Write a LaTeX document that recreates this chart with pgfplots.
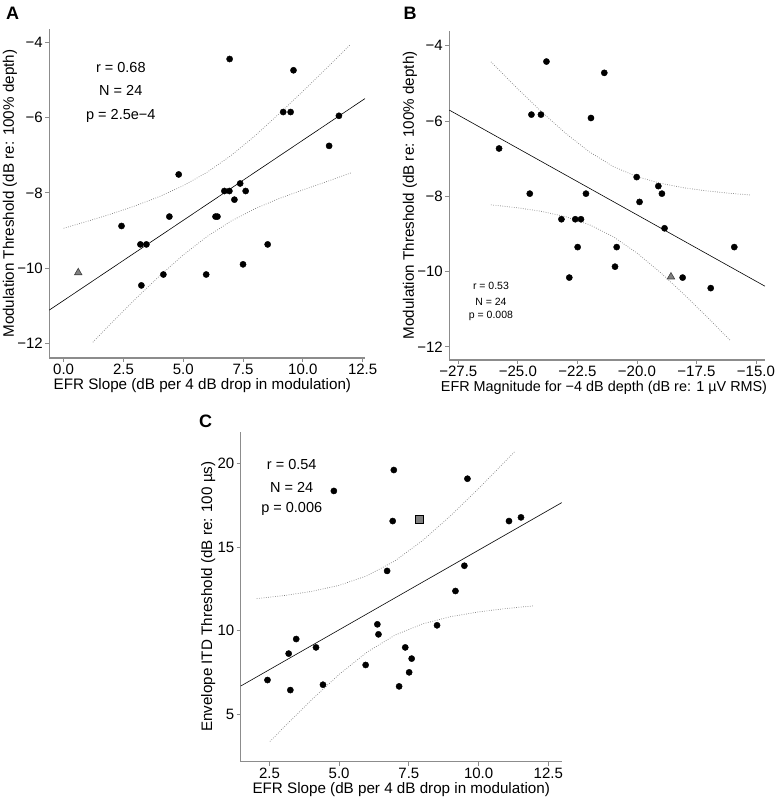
\documentclass[border=0pt]{standalone}
\usepackage{fontspec}
\setmainfont{Liberation Sans}
\usepackage{pgfplots}
\pgfplotsset{compat=1.18}
\definecolor{axisgray}{RGB}{140,140,140}
\definecolor{cigray}{RGB}{125,125,125}
\definecolor{markgray}{RGB}{128,128,128}
\newcommand{\lblfont}{\fontsize{15.2}{15.2}\selectfont}
\pgfplotsset{
  panel/.style={
    scale only axis,
    axis x line*=bottom, axis y line*=left,
    axis line style={draw=axisgray, line width=1.2pt, -},
    tick style={draw=axisgray, line width=0.8pt},
    major tick length=4pt, tick align=outside,
    ticklabel style={font=\fontsize{15}{15}\selectfont, text=black, inner sep=0pt},
    x tick label style={yshift=-2.1pt},
    y tick label style={xshift=-2.3pt},
    /pgf/number format/assume math mode=true,
    clip=false,
  },
  dots/.style={only marks, mark=*, mark size=3.1pt, black},
  fitline/.style={black, line width=0.6pt, no marks},
  ciline/.style={cigray, line width=0.7pt, dash pattern=on 0.7pt off 1.6pt, no marks},
}
\begin{document}
\begin{tikzpicture}[x=1pt,y=1pt]
\useasboundingbox (0,0) rectangle (777,797);
\node[font=\fontsize{18}{18}\selectfont\bfseries] at (12.5,784) {A};
\node[font=\fontsize{18}{18}\selectfont\bfseries] at (410,784) {B};
\node[font=\fontsize{18}{18}\selectfont\bfseries] at (205.5,375.5) {C};

% Panel A
\begin{axis}[panel, at={(49.3pt,439pt)}, anchor=south west,
  width=315.7pt, height=328.7pt,
  xmin=-0.6, xmax=12.6, ymin=-12.39, ymax=-3.65,
  xtick={0,2.5,5,7.5,10,12.5}, xticklabels={0.0,2.5,5.0,7.5,10.0,12.5},
  ytick={-12,-10,-8,-6,-4}, yticklabels={−12,−10,−8,−6,−4},
  xlabel={EFR Slope (dB per 4 dB drop in modulation)},
  ylabel={Modulation Threshold (dB re: 100\% depth)},
  every axis x label/.style={at={(axis description cs:0.485,-0.0958)}, anchor=base, inner sep=0pt, font=\lblfont},
  every axis y label/.style={at={(axis description cs:-0.1245,0.5)}, anchor=center, inner sep=0pt, rotate=90, font=\lblfont},
]
\addplot[ciline] coordinates {(0,-8.94)(1,-8.754)(2,-8.558)(3,-8.343)(4,-8.099)(5,-7.809)(6,-7.45)(7,-7.007)(8,-6.483)(9,-5.90)(10,-5.30)(11,-4.68)(12,-4.05)};
\addplot[ciline] coordinates {(1.22,-11.97)(2,-11.458)(3,-10.821)(4,-10.213)(5,-9.651)(6,-9.158)(7,-8.749)(8,-8.421)(9,-8.152)(10,-7.921)(11,-7.70)(12,-7.47)};
\addplot[fitline] coordinates {(-0.6,-11.116)(12.6,-5.492)};
\addplot[dots] table {
6.94 -4.44
9.61 -4.74
9.18 -5.85
9.49 -5.85
11.51 -5.95
11.10 -6.75
4.81 -7.51
7.38 -7.75
6.72 -7.95
6.93 -7.95
7.61 -7.95
7.14 -8.18
6.35 -8.63
6.43 -8.63
4.42 -8.63
2.42 -8.88
3.21 -9.37
3.46 -9.37
8.53 -9.37
7.50 -9.90
5.96 -10.17
4.17 -10.17
3.25 -10.46
};
\addplot[only marks, mark=triangle*, mark size=4.3pt, mark options={fill=markgray, draw=black!75, line width=0.6pt}] coordinates {(0.61,-10.12)};
\node[font=\fontsize{14.5}{14.5}\selectfont] at (axis cs:2.39,-4.67) {r = 0.68};
\node[font=\fontsize{14.5}{14.5}\selectfont] at (axis cs:2.39,-5.28) {N = 24};
\node[font=\fontsize{14.5}{14.5}\selectfont] at (axis cs:2.39,-5.96) {p = 2.5e−4};
\end{axis}

% Panel B
\begin{axis}[panel, at={(449.3pt,437pt)}, anchor=south west,
  width=315.7pt, height=329.3pt,
  xmin=-27.88, xmax=-14.62, ymin=-12.35, ymax=-3.6,
  xtick={-27.5,-25,-22.5,-20,-17.5,-15}, xticklabels={−27.5,−25.0,−22.5,−20.0,−17.5,−15.0},
  ytick={-12,-10,-8,-6,-4}, yticklabels={−12,−10,−8,−6,−4},
  xlabel={EFR Magnitude for −4 dB depth (dB re: 1 µV RMS)},
  ylabel={Modulation Threshold (dB re: 100\% depth)},
  every axis x label/.style={at={(axis description cs:0.49,-0.0956)}, anchor=base, inner sep=0pt, font=\fontsize{14.4}{14.4}\selectfont},
  every axis y label/.style={at={(axis description cs:-0.1245,0.5)}, anchor=center, inner sep=0pt, rotate=90, font=\lblfont},
]
\addplot[ciline] coordinates {(-26.13,-4.429)(-25,-5.148)(-24,-5.758)(-23,-6.324)(-22,-6.818)(-21,-7.207)(-20,-7.478)(-19,-7.657)(-18,-7.777)(-17,-7.862)(-16,-7.926)(-15.25,-7.964)};
\addplot[ciline] coordinates {(-26.13,-8.227)(-25,-8.306)(-24,-8.402)(-23,-8.542)(-22,-8.754)(-21,-9.071)(-20,-9.506)(-19,-10.033)(-18,-10.619)(-17,-11.24)(-16.06,-11.842)};
\addplot[fitline] coordinates {(-27.88,-5.71)(-14.62,-10.39)};
\addplot[dots] table {
-23.80 -4.42
-21.37 -4.72
-24.43 -5.83
-24.03 -5.83
-21.93 -5.92
-25.79 -6.73
-20.01 -7.49
-19.10 -7.73
-24.50 -7.93
-22.14 -7.93
-18.95 -7.93
-19.89 -8.15
-23.17 -8.61
-22.59 -8.61
-22.35 -8.61
-18.84 -8.85
-22.49 -9.35
-20.85 -9.35
-15.91 -9.35
-20.92 -9.87
-22.84 -10.16
-18.08 -10.16
-16.90 -10.44
};
\addplot[only marks, mark=triangle*, mark size=4.3pt, mark options={fill=markgray, draw=black!75, line width=0.6pt}] coordinates {(-18.57,-10.14)};
\node[font=\fontsize{10.5}{10.5}\selectfont] at (axis cs:-26.13,-10.39) {r = 0.53};
\node[font=\fontsize{10.5}{10.5}\selectfont] at (axis cs:-26.13,-10.80) {N = 24};
\node[font=\fontsize{10.5}{10.5}\selectfont] at (axis cs:-26.13,-11.18) {p = 0.008};
\end{axis}

% Panel C
\begin{axis}[panel, at={(240.7pt,35.3pt)}, anchor=south west,
  width=321pt, height=330pt,
  xmin=1.47, xmax=12.98, ymin=2.17, ymax=21.89,
  xtick={2.5,5,7.5,10,12.5}, xticklabels={2.5,5.0,7.5,10.0,12.5},
  ytick={5,10,15,20}, yticklabels={5,10,15,20},
  xlabel={EFR Slope (dB per 4 dB drop in modulation)},
  ylabel={Envelope ITD Threshold (dB re: 100 µs)},
  every axis x label/.style={at={(axis description cs:0.5,-0.0955)}, anchor=base, inner sep=0pt, font=\lblfont},
  every axis y label/.style={at={(axis description cs:-0.101,0.5)}, anchor=center, inner sep=0pt, rotate=90, font=\lblfont},
]
\addplot[ciline] coordinates {(2.045,11.913)(3,12.092)(4,12.342)(5,12.709)(6,13.282)(7,14.17)(8,15.398)(9,16.874)(10,18.494)(11,20.192)(11.31,20.729)};
\addplot[ciline] coordinates {(2.52,3.378)(3,4.196)(4,5.85)(5,7.387)(6,8.718)(7,9.734)(8,10.41)(9,10.838)(10,11.122)(11,11.328)(11.99,11.484)};
\addplot[fitline] coordinates {(1.47,6.69)(12.98,17.65)};
\addplot[dots] table {
6.96 19.60
9.60 19.08
4.81 18.35
6.92 16.55
11.09 16.55
11.52 16.77
6.72 13.57
9.49 13.88
9.17 12.37
6.37 10.38
8.51 10.32
6.41 9.78
3.46 9.50
3.19 8.63
4.17 9.00
7.37 9.00
7.60 8.33
5.95 7.95
7.51 7.51
2.43 7.05
4.42 6.77
3.25 6.45
7.15 6.67
};
\addplot[only marks, mark=square*, mark size=3.6pt, mark options={fill=markgray, draw=black, line width=0.8pt}] coordinates {(7.88,16.65)};
\node[font=\fontsize{14.5}{14.5}\selectfont] at (axis cs:3.30,19.90) {r = 0.54};
\node[font=\fontsize{14.5}{14.5}\selectfont] at (axis cs:3.30,18.57) {N = 24};
\node[font=\fontsize{14.5}{14.5}\selectfont] at (axis cs:3.30,17.25) {p = 0.006};
\end{axis}
\end{tikzpicture}
\end{document}
